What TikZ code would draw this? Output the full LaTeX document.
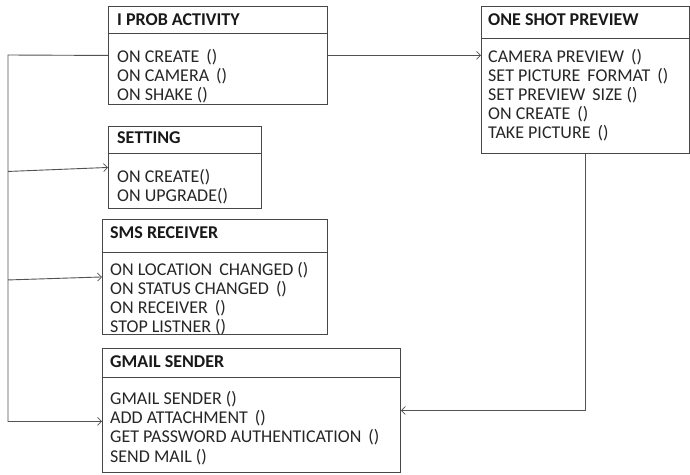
\documentclass[tikz,border=0pt]{standalone}
\usepackage{fontspec}
\setmainfont{Carlito}
\usetikzlibrary{arrows.meta,calc}
\newcommand{\wgap}{\hspace{7pt}}
\begin{document}
\begin{tikzpicture}[x=1pt,y=-1pt,
  box/.style={draw=black!72, line width=0.9pt, anchor=north west, inner sep=0pt},
  divider/.style={draw=black!72, line width=0.9pt},
  ttl/.style={anchor=base west, inner sep=0pt, text=black!90, font=\fontsize{18}{20}\selectfont\bfseries},
  itm/.style={anchor=base west, inner sep=0pt, text=black!85, font=\fontsize{18}{20}\selectfont},
  conn/.style={draw=black!68, line width=0.9pt},
  tip/.style={-{Straight Barb[length=4pt,width=8pt,line width=0.7pt]}}]
\useasboundingbox (0,0) rectangle (690,474);

% I PROB ACTIVITY
\node[box, minimum width=219pt, minimum height=98pt] (ipa) at (108,6) {};
\draw[divider] (108,33) -- (327,33);
\node[ttl] (ipat) at (117,25.5) {I PROB ACTIVITY};
\node[itm] (ipa1) at (117,62.5) {ON CREATE\wgap()};
\node[itm] (ipa2) at (117,81.5) {ON CAMERA\wgap()};
\node[itm] (ipa3) at (117,100.5) {ON SHAKE ()};

% SETTING
\node[box, minimum width=153pt, minimum height=82pt] (st) at (108,126) {};
\draw[divider] (108,153) -- (261,153);
\node[ttl] (stt) at (117,143.5) {SETTING};
\node[itm] (st1) at (117,182.5) {ON CREATE()};
\node[itm] (st2) at (117,201.5) {ON UPGRADE()};

% SMS RECEIVER
\node[box, minimum width=225pt, minimum height=115pt] (sms) at (102,219) {};
\draw[divider] (102,252) -- (327,252);
\node[ttl] (smst) at (110,238.5) {SMS RECEIVER};
\node[itm] (sms1) at (110,275.5) {ON LOCATION\wgap CHANGED ()};
\node[itm] (sms2) at (110,294.5) {ON STATUS CHANGED\wgap()};
\node[itm] (sms3) at (110,313.5) {ON RECEIVER\wgap()};
\node[itm] (sms4) at (110,332.5) {STOP LISTNER ()};

% GMAIL SENDER
\node[box, minimum width=298pt, minimum height=124pt] (gm) at (102,348) {};
\draw[divider] (102,377) -- (400,377);
\node[ttl] (gmt) at (110,367.5) {GMAIL SENDER};
\node[itm] (gm1) at (110,404.5) {GMAIL SENDER ()};
\node[itm] (gm2) at (110,423.5) {ADD ATTACHMENT\wgap()};
\node[itm] (gm3) at (110,442.5) {GET PASSWORD AUTHENTICATION\wgap()};
\node[itm] (gm4) at (110,462) {SEND MAIL ()};

% ONE SHOT PREVIEW
\node[box, minimum width=208pt, minimum height=147pt] (osp) at (481,6) {};
\draw[divider] (481,38) -- (689,38);
\node[ttl] (ospt) at (488,25) {ONE SHOT PREVIEW};
\node[itm] (osp1) at (488,62.5) {CAMERA PREVIEW\wgap()};
\node[itm] (osp2) at (488,81.5) {SET PICTURE\wgap FORMAT\wgap()};
\node[itm] (osp3) at (488,100.5) {SET PREVIEW\wgap SIZE ()};
\node[itm] (osp4) at (488,119.5) {ON CREATE\wgap()};
\node[itm] (osp5) at (488,138.5) {TAKE PICTURE\wgap()};

% connectors
\coordinate (sp) at (8,55);
\draw[conn, tip] (ipa.east) -- (ipa.east -| osp.west);
\draw[conn, tip] (ipa.west) -- (sp) -- ([yshift=-11pt]sp |- gm.west) -- ([yshift=-11pt]gm.west);
\draw[conn, tip] ([yshift=-4pt]sp |- st.west) -- (st.west);
\draw[conn, tip] ([yshift=-3pt]sp |- sms.west) -- (sms.west);
\draw[conn, tip] (osp.south) -- (osp.south |- gm.east) -- (gm.east);
\end{tikzpicture}
\end{document}
